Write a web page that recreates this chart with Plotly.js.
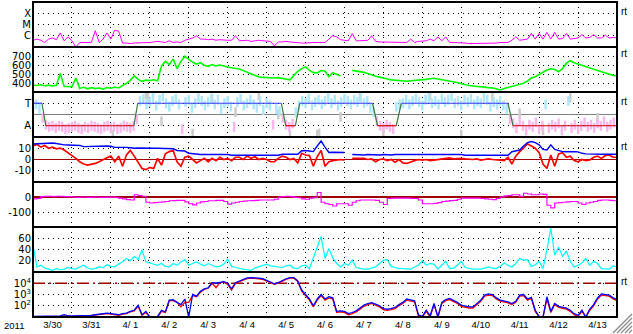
<!DOCTYPE html>
<html><head><meta charset="utf-8">
<script src="https://cdn.plot.ly/plotly-3.0.1.min.js"></script>
<style>html,body{margin:0;padding:0;background:#fff;overflow:hidden}#chart{width:633px;height:334px}</style>
</head><body><div id="chart"></div>
<script>
// ---------------- DATA ----------------
const startDate = [2011, 2, 30];           // 2011-03-30 00:00 UT
const yearLabel = '2011';
const dayLabels = ['3/30','3/31','4/ 1','4/ 2','4/ 3','4/ 4','4/ 5','4/ 6','4/ 7','4/ 8','4/ 9','4/10','4/11','4/12','4/13'];
const stepDays = 0.1;      // sampling of the series below (one row = one day)

// Panel 1: X-ray flux, log10 W/m2
const xrayLog = [
 -6.4,-6.3,-6.4,-6.6,-6.3,-6.2,-6.35,-5.75,-6.45,-6.1,
 -6.45,-7.0,-6.6,-6.6,-6.55,-6.6,-5.55,-6.6,-6.3,-5.75,
 -6.3,-5.5,-5.6,-6.65,-6.65,-6.7,-6.65,-6.65,-6.6,-6.65,
 -6.6,-6.55,-6.5,-6.55,-6.6,-6.45,-6.6,-6.55,-6.6,-6.4,
 -6.3,-6.2,-6.0,-6.3,-6.3,-6.35,-6.3,-6.4,-6.35,-6.4,
 -6.4,-6.4,-6.0,-6.45,-6.45,-6.4,-6.5,-6.45,-6.4,-6.45,
 -6.45,-6.5,-6.9,-6.55,-6.55,-6.5,-6.55,-6.6,-6.65,-6.65,
 -6.65,-6.6,-6.6,-6.6,-6.6,-6.6,-6.3,-6.0,-6.1,-6.35,
 -6.4,-6.45,-5.8,-6.45,-6.45,-6.45,-6.4,-6.0,-6.5,-6.55,
 -6.55,-6.55,-6.55,-6.55,-6.6,-6.6,-6.6,-6.3,-6.6,-6.5,
 -6.45,-6.45,-6.3,-6.45,-6.1,-6.45,-6.1,-6.6,-6.6,-6.6,
 -6.6,-6.65,-6.7,-6.7,-6.7,-6.7,-6.7,-6.7,-6.65,-6.65,
 -6.6,-6.6,-6.6,-6.4,-6.1,-6.4,-6.35,-6.3,-5.8,-6.3,
 -5.8,-6.3,-5.7,-6.3,-5.7,-6.3,-6.25,-5.8,-6.3,-6.25,
 -6.2,-5.9,-6.2,-6.15,-5.9,-6.2,-6.2,-5.95,-6.2,-6.15,
 -6.2];
const xrayTicks = [-4, -5, -6];
const xrayClassLabels = ['X', 'M', 'C'];

// Panel 2: solar wind speed (km/s)
const windSpeed = [
 378,372,380,370,376,368,374,505,362,358,
 360,455,340,352,335,348,338,345,332,350,
 342,355,345,372,395,430,478,440,418,432,
 428,436,425,590,640,605,665,560,640,698,
 660,630,610,625,598,585,605,590,600,585,
 578,570,565,555,540,520,505,485,467,462,
 458,460,455,460,450,440,436,485,530,560,
 578,540,515,512,538,530,470,515,500,478,
 null,null,540,535,525,518,505,488,475,465,
 458,445,435,430,425,422,420,425,428,430,
 434,440,448,452,445,438,432,425,420,405,
 392,380,372,366,360,354,350,349,346,335,
 322,338,350,358,368,380,398,420,455,470,
 495,520,545,558,550,525,560,620,648,625,
 612,600,585,570,558,540,525,510,495,485,
 482];
const windTicks = [400, 500, 600, 700];

// Panel 3: IMF sector (T = +1, A = -1), 2-hour samples of IMF direction
const imfStepDays = 1/12;
const imfDirection = [
 0.8,0.9,0.5,-0.3,-0.9,-1.1,-1.0,-1.2,-1.0,-1.1,-1.3,-1.2,
 -1.1,-1.0,-1.2,-1.3,-1.1,-1.2,-1.0,-1.1,-1.2,-1.3,-1.1,-1.0,
 -1.2,-1.1,-1.3,-1.2,-1.0,-1.1,-1.2,-1.0,-0.4,1.2,1.4,0.9,
 1.1,1.5,0.8,1.3,1.6,1.0,0.7,1.2,1.4,0.9,-1.3,1.1,
 1.3,0.6,1.0,1.5,1.2,0.8,1.1,1.4,0.9,1.3,0.5,1.0,
 1.2,0.7,-1.1,1.1,1.4,0.8,1.0,1.3,0.9,0.6,1.2,0.4,
 1.0,0.8,-0.9,0.5,0.3,-0.3,-0.9,-1.1,-0.8,0.2,0.8,1.2,
 1.0,1.4,0.8,1.1,1.3,0.9,1.2,1.5,1.0,1.3,0.8,1.1,
 1.4,1.2,0.9,1.3,1.1,1.5,1.0,1.2,0.6,0.2,-0.6,-1.0,
 -1.2,-0.9,-1.1,-1.3,0.7,0.9,1.0,1.3,0.9,1.2,1.4,1.1,
 0.8,1.3,1.5,1.0,1.2,0.9,1.4,1.1,1.3,1.6,1.0,1.2,
 0.8,1.3,1.1,1.4,0.9,1.2,1.0,1.5,1.3,0.7,1.1,0.9,
 1.2,0.8,0.5,-0.4,-0.8,-1.2,-0.6,-1.0,-1.4,-0.9,-1.1,-0.7,
 -1.3,-1.0,0.9,-1.2,-0.9,-1.1,-0.8,-1.4,-1.0,1.2,-1.2,-0.9,
 -1.3,-1.0,-0.7,-1.1,-0.9,-1.2,-0.8,-1.0,-0.6,-1.1,-0.9,-0.7];
const imfOtherDay = [2.05,2.9,2.95,3.3,4.1,4.6,5.2,5.8,6.3,6.6,7.3,7.35,7.9,8.4,9.0,10.2,11.0,11.8,12.5,13.1,13.8,14.5];
const imfOtherVal = [-1.8,1.8,1.5,-0.6,-1.7,1.4,0.2,1.7,0.0,-1.9,-1.8,-1.7,-0.2,1.6,-1.5,1.7,-1.8,1.6,0.1,-1.4,1.5,-0.3];
const sectorDay  = [0, 0.23, 0.33, 2.59, 2.69, 6.38, 6.49, 6.74, 6.85, 8.72, 8.85, 9.33, 9.46, 12.2, 12.33, 15];
const sectorSign = [1, 1, -1, -1, 1, 1, -1, -1, 1, 1, -1, -1, 1, 1, -1, -1];
const sectorTicks = [1, -1];
const sectorLabels = ['T', 'A'];

// Panel 4: IMF Bt and Bz (nT)
const imfBt = [
 13.8,14,13.8,14,14.5,14.6,14.2,13.5,13,12.9,
 12.9,12.8,12.5,11.4,11.5,12,12,12.2,12,12,
 11.8,10.8,10.8,11,10.8,10.5,10,10.2,10,10,
 9.8,10,10,10,9.8,10,9.5,8,7.8,7.5,
 5.5,5,4.5,4.5,4.5,4.5,4.5,4.5,4.5,4.5,
 4.5,3.8,3.8,3.8,3.8,3.8,3.8,3.8,3.8,3.8,
 3.8,3.8,3.8,3.8,4.7,4.7,4.7,4.7,4.7,7.8,
 8,7.5,7,12,16.4,11,6.2,6.5,6.2,6,
 6.2,null,4.5,4.2,4.5,4,4.5,4.2,4.4,4,
 4.5,4.3,4,4.5,4.2,4.4,4.5,4.2,4.5,4.5,
 4.5,4.5,4.5,4.5,4.5,4.5,4.5,4.5,4.5,4.5,
 4.5,3.8,3.8,3.8,3.8,3.8,3.8,3.8,3.8,3.8,
 3.8,3.8,3.8,6.9,7.5,8.4,12,15.1,16,15,
 13,9,8.5,13,9,7.8,7,6.9,7.2,6.9,
 6.8,5.5,5,4.8,4.7,4.7,4.7,4.7,4.7,4.7,
 4.7];
const imfBz = [
 12,13.5,11,12.5,10,11,9.5,10,8.5,6,
 4,1,-2,-4,-5,-4.5,-3.5,-2,0,1.5,
 3,-2,3,-6,4,8,3,-3,-8,-9,
 -7,-8,1,-5,5,7,8,-2,-6,2,
 3,0,-3,-1,1,-2,1,-1,2,0,
 1,-1,2,2,0,3,1,2.5,0,1,
 0,-2,-2,1,3,2,0,1,-3,5.5,
 4,3.5,-6,2.5,8,-6,-2,-1,-0.5,0,
 -0.5,null,1,1,0.5,1,0,0.5,-2,0,
 0.5,-1,0,-2.5,0,-3,-3.5,-2,-1,0,
 -0.5,0,-1,-0.5,0,1,1,1.5,0.5,1,
 1,0.5,0,0,0.5,-0.5,0,0.5,0,0,
 -0.5,-1,2,-4,3,7,10,14,12,10,
 6,-4,-8,4,-6,5,6,2,3,-1,
 -2,0,-1,-0.5,2,3,1,3.5,4,2,
 2];
const imfTicks = [10, 0, -10];

// Panel 5: Dst (nT)
const dst = [
 -13,-10,2,4,5,3,5,4,3,2,
 0,-2,-1,0,-2,-1,0,-2,-1,-2,
 -1,-3,-8,-12,-18,-20,15,10,5,-35,
 -40,-38,-35,-32,-30,-25,-24,-22,-22,-33,
 -45,-53,-40,-33,-30,-25,-25,-23,-22,-30,
 -47,-40,-35,-30,-28,-25,-24,-22,-20,-20,
 -20,-20,-15,0,2,5,3,-2,-5,-12,
 -15,-8,-5,30,-35,-45,-50,-60,-45,-45,
 -45,-55,-35,-25,-20,-20,-20,-20,-22,-35,
 -50,-10,-7,-7,-7,-7,-8,-9,-10,-20,
 -45,-45,-45,-42,-38,-30,-27,-24,-22,-15,
 -7,-7,-7,-7,-8,-10,-13,-15,-17,-10,
 0,8,10,15,15,5,25,20,15,15,
 20,18,-55,-73,-40,-38,-35,-33,-30,-30,
 -40,-50,-40,-35,-30,-22,-20,-20,-22,-25,
 -25];
const dstTicks = [0, -100];

// Panel 6: geomagnetic activity index
const activity = [
 48,9,12,7,5,3,6,4,5,8,
 6,5,9,12,7,5,6,9,8,13,
 10,9,14,18,24,20,28,22,39,18,
 16,14,12,15,10,9,15,12,18,22,
 12,15,18,14,11,15,12,9,10,14,
 23,10,8,6,5,4,3,7,9,12,
 14,11,10,9,8,11,12,7,6,11,
 12,6,24,45,63,24,42,25,15,9,
 15,12,21,8,6,5,5,7,9,15,
 21,22,10,8,6,6,6,5,9,12,
 20,12,15,14,5,12,19,6,7,12,
 19,8,6,5,5,5,7,9,7,6,
 10,16,12,9,15,24,21,22,10,13,
 19,6,40,78,30,44,28,37,19,9,
 12,16,24,12,19,15,6,5,5,11,
 9];
const activityTicks = [20, 40, 60];

// Panel 7: >2 MeV electron flux, log10 (two satellites)
const electronA = [
 1.05,1.05,1.1,1.05,1.1,1.1,1.05,1.1,1.2,1.1,
 1.1,1.1,1.15,1.1,1.15,1.15,1.2,1.25,1.3,1.35,
 1.3,1.25,1.2,1.3,1.35,1.5,1.6,2.04,1.2,1.5,
 1.0,1.0,1.05,1.6,1.45,2.5,2.54,2.3,2.1,2.6,
 1.0,3.0,2.85,3.28,3.5,3.6,4.05,4.0,4.1,4.15,
 4.0,3.5,4.05,4.2,4.35,4.47,4.5,4.5,4.45,4.4,
 4.25,4.1,3.95,4.05,4.25,4.4,4.5,4.5,4.2,3.4,
 3.0,2.6,2.0,2.6,3.0,2.6,2.8,2.7,1.5,1.55,
 1.5,1.3,1.4,1.55,1.8,2.05,2.2,2.27,2.15,2.0,
 1.75,1.7,1.75,1.85,2.1,2.3,2.6,2.55,2.45,1.2,
 1.05,1.6,1.1,2.2,1.0,2.3,2.55,2.65,2.5,2.3,
 2.05,1.95,1.9,1.9,2.2,2.5,2.95,3.05,3.0,2.7,
 2.5,2.45,2.35,2.2,2.4,2.95,3.0,2.6,2.75,1.6,
 1.05,1.0,2.8,1.5,2.2,1.95,1.85,1.8,1.6,1.3,
 1.15,1.6,1.0,1.7,2.1,2.7,3.05,3.0,2.95,2.7,
 2.55];
const electronB = [
 1.0,1.0,1.05,1.0,1.05,1.05,1.0,1.05,1.1,1.05,
 1.05,1.05,1.1,1.05,1.1,1.1,1.15,1.2,1.25,1.3,
 1.25,1.2,1.15,1.25,1.3,1.45,1.55,1.95,1.15,1.4,
 1.0,1.0,1.0,1.5,1.4,2.45,2.45,2.3,1.9,2.3,
 2.3,2.9,2.8,3.2,3.45,3.55,4.0,3.6,4.05,4.1,
 3.9,3.4,4.0,4.15,4.3,4.42,4.45,4.45,4.4,4.35,
 4.2,4.05,3.9,4.0,4.2,4.35,4.45,4.45,4.15,3.3,
 2.9,2.5,1.9,2.5,2.9,2.5,2.7,2.6,1.4,1.45,
 1.4,1.2,1.3,1.45,1.7,1.95,2.1,2.2,2.05,1.9,
 1.65,1.6,1.65,1.75,2.0,2.2,2.5,2.45,2.35,1.1,
 1.0,1.5,1.0,2.1,1.0,2.2,2.45,2.55,2.4,2.2,
 1.95,1.85,1.8,1.8,2.1,2.4,2.85,2.95,2.9,2.6,
 2.4,2.35,2.25,2.1,2.3,2.85,2.9,2.5,2.65,1.5,
 1.0,1.0,2.6,1.4,2.1,1.85,1.75,1.7,1.5,1.2,
 1.05,1.5,1.0,1.6,2.0,2.6,2.95,2.9,2.85,2.6,
 2.45];
const electronTicks = [2, 3, 4];
const electronAlertLog = 4;

// ---------------- HELPERS ----------------
const T0 = Date.UTC(startDate[0], startDate[1], startDate[2]);
const toTime = d => new Date(T0 + Math.round(d * 864e5)).toISOString().slice(0, 19).replace('T', ' ');
const times = (vals, step) => vals.map((_, i) => toTime(i * step));
const nDays = dayLabels.length;

const plotL = 33, plotR = 617, plotT = 2, plotB = 317, W = 633, H = 334;
const pw = plotR - plotL, ph = plotB - plotT;
const px2x = p => (p - plotL) / pw;
const py2y = p => (plotB - p) / ph;
const nPanels = 7;
const dom = k => [1 - (k + 1) / nPanels, 1 - k / nPanels];

const DOT = '1px,4px';
const yFont = {family: 'DejaVu Sans, sans-serif', size: 10, color: '#000'};
const xFont = {family: 'Liberation Sans, Arial, sans-serif', size: 9.5, color: '#000'};
const DARKRED = '#a00000';

function yax(k, extra) {
  return Object.assign({
    domain: dom(k), anchor: 'x', showline: false, zeroline: false, ticks: '',
    showgrid: true, gridcolor: '#000', griddash: DOT, gridwidth: 1,
    tickfont: yFont, fixedrange: true, tickmode: 'array', ticklabelstandoff: 1
  }, extra);
}

const traces = [];
const line = (x, y, yaxis, color, w, extra) => Object.assign({
  type: 'scatter', mode: 'lines', x, y, xaxis: 'x', yaxis,
  line: {color, width: w}, hoverinfo: 'skip', connectgaps: false
}, extra || {});

// Panel 1
traces.push(line(times(xrayLog, stepDays), xrayLog.map(v => Math.pow(10, v)), 'y', '#ff00ff', 1));
// Panel 2
traces.push(line(times(windSpeed, stepDays), windSpeed, 'y2', '#00ff00', 1.6));
// Panel 3 scatter
const imfT = times(imfDirection, imfStepDays);
const posX = [], posY = [], negX = [], negY = [];
imfDirection.forEach((v, i) => { if (v >= 0) { posX.push(imfT[i]); posY.push(v); } else { negX.push(imfT[i]); negY.push(v); } });
const streak = c => ({mode: 'markers', marker: {symbol: 'line-ns', size: 7, line: {width: 2.5, color: c}}});
traces.push(Object.assign(line(imfOtherDay.map(toTime), imfOtherVal, 'y3', '#c8c8c8', 1), streak('#cccccc')));
traces.push(Object.assign(line(posX, posY, 'y3', '#aee6fa', 1), streak('#aee6fa')));
traces.push(Object.assign(line(negX, negY, 'y3', '#f8b8ee', 1), streak('#f8b8ee')));
// Panel 3 sector line
const seg = {T: [[], []], A: [[], []], X: [[], []]};
for (let i = 0; i < sectorDay.length - 1; i++) {
  const key = sectorSign[i] === sectorSign[i + 1] ? (sectorSign[i] > 0 ? 'T' : 'A') : 'X';
  seg[key][0].push(toTime(sectorDay[i]), toTime(sectorDay[i + 1]), null);
  seg[key][1].push(sectorSign[i], sectorSign[i + 1], null);
}
traces.push(line(seg.X[0], seg.X[1], 'y3', '#3c7a3c', 1.2));
traces.push(line(seg.T[0], seg.T[1], 'y3', '#3a3aff', 1.2));
traces.push(line(seg.A[0], seg.A[1], 'y3', '#d00000', 1.2));
// Panel 4
traces.push(line(times(imfBz, stepDays), imfBz, 'y4', '#ff0000', 1.7));
traces.push(line(times(imfBt, stepDays), imfBt, 'y4', '#0000ff', 1.4));
// Panel 5
traces.push(line(times(dst, stepDays), dst, 'y5', '#ff00ff', 1.2, {line: {color: '#ff00ff', width: 1.2, shape: 'hv'}}));
// Panel 6
traces.push(line(times(activity, stepDays), activity, 'y6', '#00ffff', 1.2));
// Panel 7
traces.push(line([toTime(0), toTime(nDays)], [1, 1].map(() => Math.pow(10, electronAlertLog)), 'y7', DARKRED, 1.5,
  {line: {color: DARKRED, width: 1.5, dash: '12px,4px,2px,4px'}}));
traces.push(line(times(electronB, stepDays), electronB.map(v => Math.pow(10, v)), 'y7', '#ff0000', 1.3));
traces.push(line(times(electronA, stepDays), electronA.map(v => Math.pow(10, v)), 'y7', '#0000ff', 1.3));

// ---------------- LAYOUT ----------------
const shapes = [];
for (let k = 0; k < nPanels; k++) {
  const d = dom(k);
  shapes.push({type: 'rect', xref: 'paper', yref: 'paper', x0: 0, x1: 1, y0: d[0], y1: d[1],
    line: {color: '#000', width: 2}, fillcolor: 'rgba(0,0,0,0)', layer: 'above'});
}
// resize grip at bottom-right
[3, 7, 11, 15, 19].forEach(k => {
  shapes.push({type: 'line', xref: 'paper', yref: 'paper',
    x0: px2x(W - 1 - k), y0: py2y(H - 1), x1: px2x(W - 1), y1: py2y(H - 1 - k), line: {color: '#8a8a8a', width: 1.3}});
});

const rtFont = {family: 'Liberation Sans, Arial, sans-serif', size: 10, color: '#000'};
const rt = (yref, y) => ({xref: 'paper', yref, x: px2x(619), y, xanchor: 'left', yanchor: 'middle', text: 'rt', showarrow: false, font: rtFont, yshift: 2});

const layout = {
  width: W, height: H, margin: {l: plotL, r: W - plotR, t: plotT, b: H - plotB, pad: 0},
  paper_bgcolor: '#fff', plot_bgcolor: '#fff', showlegend: false,
  xaxis: {type: 'date', range: [toTime(0), toTime(nDays)], anchor: 'y7', fixedrange: true,
    tickmode: 'array', tickvals: dayLabels.map((_, i) => toTime(i + 0.5)), ticktext: dayLabels,
    ticks: '', showgrid: false, zeroline: false, showline: false, tickfont: xFont,
    minor: {tickmode: 'linear', tick0: toTime(0), dtick: 864e5, showgrid: true, gridcolor: '#000', griddash: DOT, gridwidth: 1, ticks: ''}},
  yaxis: yax(0, {type: 'log', range: [-7, -3], tickvals: xrayTicks.map(v => Math.pow(10, v)), ticktext: xrayClassLabels}),
  yaxis2: yax(1, {range: [300, 800], tickvals: windTicks, ticktext: windTicks.map(String)}),
  yaxis3: yax(2, {range: [-2, 2], tickvals: sectorTicks, ticktext: sectorLabels, zeroline: true, zerolinecolor: '#808080', zerolinewidth: 1.5}),
  yaxis4: yax(3, {range: [-20, 20], tickvals: imfTicks, ticktext: imfTicks.map(String), zeroline: true, zerolinecolor: DARKRED, zerolinewidth: 1.5}),
  yaxis5: yax(4, {range: [-200, 100], tickvals: dstTicks, ticktext: dstTicks.map(String), zeroline: true, zerolinecolor: DARKRED, zerolinewidth: 1.5}),
  yaxis6: yax(5, {range: [0, 80], tickvals: activityTicks, ticktext: activityTicks.map(String)}),
  yaxis7: yax(6, {type: 'log', range: [1, 5], tickvals: electronTicks.map(v => Math.pow(10, v)), ticktext: electronTicks.map(v => '10<sup>' + v + '</sup>')}),
  shapes,
  annotations: [
    {xref: 'paper', yref: 'paper', x: px2x(14), y: py2y(325.5), xanchor: 'center', yanchor: 'middle', text: yearLabel, showarrow: false, font: xFont},
    rt('y', xrayTicks[0]), rt('y2', windTicks[3]), rt('y3', sectorTicks[0]), rt('y4', imfTicks[0]), rt('y7', electronAlertLog)
  ]
};

Plotly.newPlot('chart', traces, layout, {staticPlot: true, displayModeBar: false});
</script>
</body></html>
